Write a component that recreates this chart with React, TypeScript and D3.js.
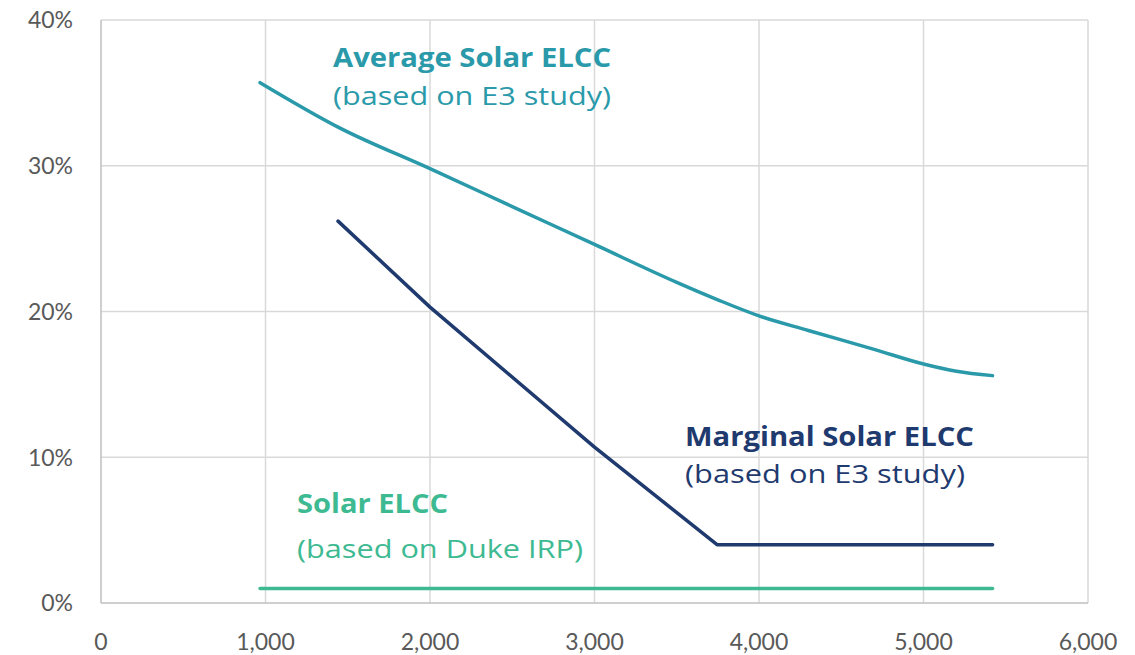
import React from "react";
import * as d3 from "d3";

const xTicks = [0, 1000, 2000, 3000, 4000, 5000, 6000];
const yTicks = [0, 0.1, 0.2, 0.3, 0.4];

const averageMW = [967, 1450, 2000, 2500, 3000, 3500, 3750, 4000, 4300, 4700, 5000, 5200, 5420];
const averageELCC = [0.357, 0.326, 0.298, 0.272, 0.246, 0.22, 0.208, 0.197, 0.187, 0.174, 0.164, 0.159, 0.156];

const marginalMW = [1441, 2000, 3000, 3745, 5420];
const marginalELCC = [0.262, 0.203, 0.107, 0.04, 0.04];

const dukeMW = [967, 5420];
const dukeELCC = [0.01, 0.01];

const W = 1135, H = 655;
const left = 101, right = 1088, top = 20, bottom = 603;

export default function App() {
  const x = d3.scaleLinear().domain([0, 6000]).range([left, right]);
  const y = d3.scaleLinear().domain([0, 0.4]).range([bottom, top]);
  const fmtX = d3.format(",");
  const fmtY = d3.format(".0%");

  const mk = (xs: number[], ys: number[], curve: any) =>
    d3.line<number>().x((_, i) => x(xs[i])).y((d) => y(d)).curve(curve)(ys) || "";

  const avgPath = mk(averageMW, averageELCC, d3.curveMonotoneX);
  const margPath = mk(marginalMW, marginalELCC, d3.curveLinear);
  const dukePath = mk(dukeMW, dukeELCC, d3.curveLinear);

  const font = "Lato, 'Open Sans', sans-serif";
  const afont = "'Open Sans', Lato, sans-serif";

  return (
    <svg width={W} height={H} style={{ position: "absolute", left: 0, top: 0, background: "#fff" }}>
      {xTicks.slice(1).map((t) => (
        <line key={"gx" + t} x1={x(t)} x2={x(t)} y1={top} y2={bottom} stroke="#d9d9d9" strokeWidth={1.5} />
      ))}
      {yTicks.slice(1).map((t) => (
        <line key={"gy" + t} x1={left} x2={right} y1={y(t)} y2={y(t)} stroke="#d9d9d9" strokeWidth={1.5} />
      ))}
      <line x1={left} x2={left} y1={top} y2={bottom} stroke="#bfbfbf" strokeWidth={1.5} />
      <line x1={left} x2={right} y1={bottom} y2={bottom} stroke="#bfbfbf" strokeWidth={1.5} />
      {yTicks.map((t) => (
        <text key={"ty" + t} x={73} y={y(t)} dy="0.36em" textAnchor="end" fontFamily={font} fontSize={23} fill="#595959">
          {fmtY(t)}
        </text>
      ))}
      {xTicks.map((t) => (
        <text key={"tx" + t} x={x(t)} y={650} textAnchor="middle" fontFamily={font} fontSize={23} fill="#595959">
          {fmtX(t)}
        </text>
      ))}
      <path d={dukePath} fill="none" stroke="#3dba91" strokeWidth={3.5} strokeLinecap="round" />
      <path d={avgPath} fill="none" stroke="#2a9aaa" strokeWidth={3.5} strokeLinecap="round" />
      <path d={margPath} fill="none" stroke="#1f3a6e" strokeWidth={3.5} strokeLinecap="round" strokeLinejoin="round" />

      <text x={333} y={67} fontFamily={afont} fontSize={26} fontWeight="bold" fill="#2a9aaa" textLength={278} lengthAdjust="spacingAndGlyphs">Average Solar ELCC</text>
      <text x={333} y={105} fontFamily={afont} fontSize={26} fill="#2a9aaa" textLength={278} lengthAdjust="spacingAndGlyphs">(based on E3 study)</text>

      <text x={685} y={446} fontFamily={afont} fontSize={26} fontWeight="bold" fill="#1f3a6e" textLength={289} lengthAdjust="spacingAndGlyphs">Marginal Solar ELCC</text>
      <text x={685} y={483} fontFamily={afont} fontSize={26} fill="#1f3a6e" textLength={280} lengthAdjust="spacingAndGlyphs">(based on E3 study)</text>

      <text x={297} y={513} fontFamily={afont} fontSize={26} fontWeight="bold" fill="#3dba91" textLength={151} lengthAdjust="spacingAndGlyphs">Solar ELCC</text>
      <text x={297} y={558} fontFamily={afont} fontSize={26} fill="#3dba91" textLength={286} lengthAdjust="spacingAndGlyphs">(based on Duke IRP)</text>
    </svg>
  );
}
